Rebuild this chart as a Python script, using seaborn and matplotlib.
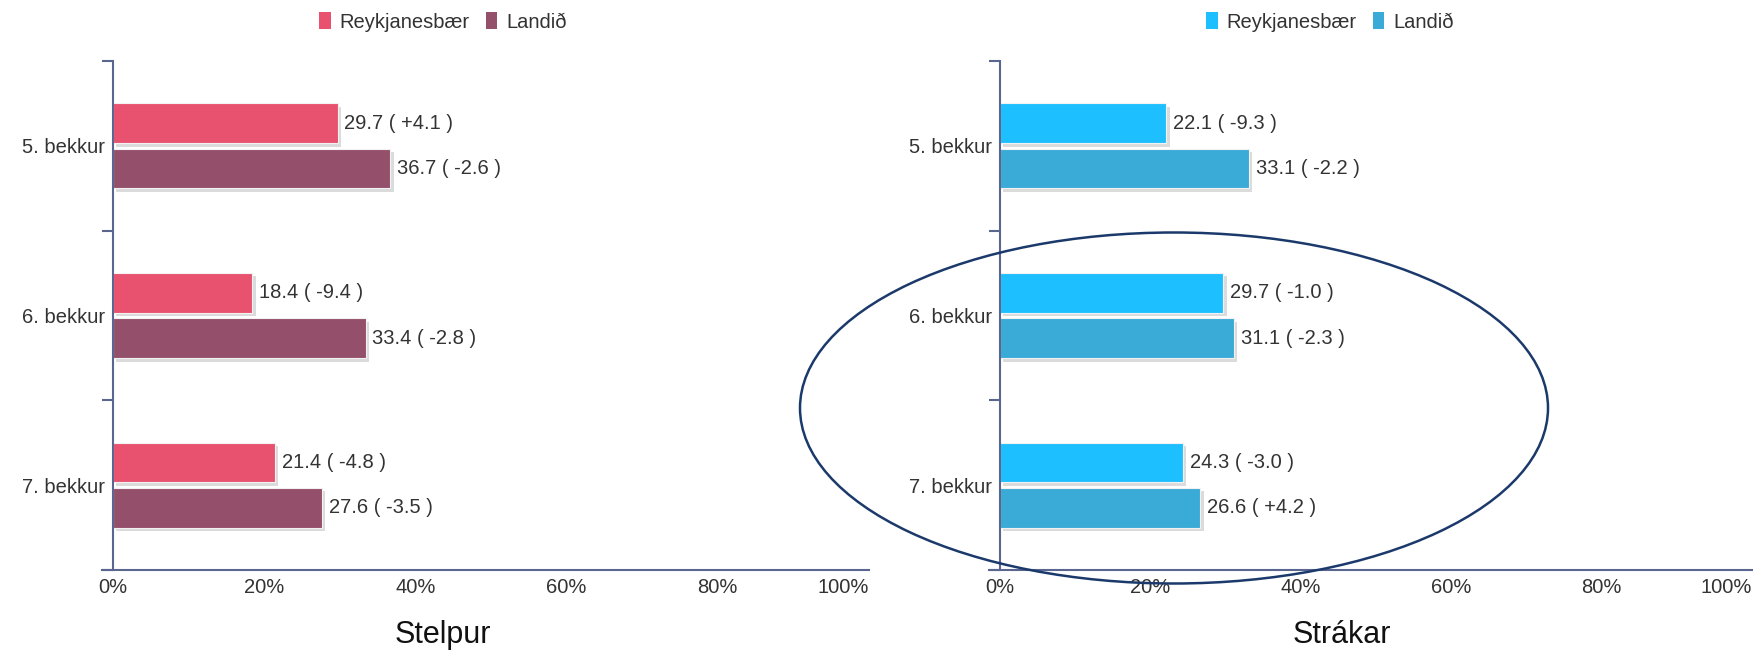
import numpy as np
import pandas as pd
import matplotlib
matplotlib.use("Agg")
import matplotlib.pyplot as plt
import matplotlib.patheffects as pe
from matplotlib.patches import Patch, Ellipse
import seaborn as sns

# === Data ===
grades = ["5. bekkur", "6. bekkur", "7. bekkur"]
groups = ["Reykjanesbær", "Landið"]

girls_rnb = [29.7, 18.4, 21.4]
girls_rnb_diff = ["+4.1", "-9.4", "-4.8"]
girls_land = [36.7, 33.4, 27.6]
girls_land_diff = ["-2.6", "-2.8", "-3.5"]

boys_rnb = [22.1, 29.7, 24.3]
boys_rnb_diff = ["-9.3", "-1.0", "-3.0"]
boys_land = [33.1, 31.1, 26.6]
boys_land_diff = ["-2.2", "-2.3", "+4.2"]

x_ticks = [0, 20, 40, 60, 80, 100]

girls_colors = ["#e8526f", "#944f6b"]
boys_colors = ["#1ebfff", "#3aabd7"]

sns.set_theme(style="white")
plt.rcParams["font.family"] = ["Liberation Sans", "DejaVu Sans"]

AXIS_COLOR = "#5a6690"
TEXT_COLOR = "#333333"
FS = 14.5


def long_df(rnb, land):
    return pd.DataFrame({
        "bekkur": grades * 2,
        "hopur": [groups[0]] * 3 + [groups[1]] * 3,
        "value": list(rnb) + list(land),
    })


def draw_panel(ax, rnb, rnb_diff, land, land_diff, colors, xmin, title, title_x, leg_x):
    df = long_df(rnb, land)
    sns.barplot(data=df, y="bekkur", x="value", hue="hopur", order=grades,
                hue_order=groups, palette=colors, orient="h", width=0.535,
                gap=0.12, ax=ax, legend=False, saturation=1,
                edgecolor="#f2f2f2", linewidth=0.8)
    shadow = [pe.SimplePatchShadow(offset=(2.5, -2.5), shadow_rgbFace="#999999", alpha=0.35),
              pe.Normal()]
    for patch in ax.patches:
        patch.set_path_effects(shadow)

    vals = [rnb, land]
    diffs = [rnb_diff, land_diff]
    for cont, v, d in zip(ax.containers, vals, diffs):
        labels = [f"{a:.1f} ( {b} )" for a, b in zip(v, d)]
        ax.bar_label(cont, labels=labels, padding=5, fontsize=FS, color=TEXT_COLOR)

    # spines first (moving a spine resets the tick styling)
    for side in ["top", "right"]:
        ax.spines[side].set_visible(False)
    ax.spines["left"].set_position(("data", 0))
    ax.spines["left"].set_color(AXIS_COLOR)
    ax.spines["left"].set_linewidth(1.5)
    ax.spines["bottom"].set_color(AXIS_COLOR)
    ax.spines["bottom"].set_linewidth(1.5)

    ax.set_xlim(xmin, 100)
    ax.set_ylim(2.5, -0.5)
    ax.set_xticks(x_ticks)
    ax.set_xticklabels([f"{t}%" for t in x_ticks], fontsize=FS, color=TEXT_COLOR)
    ax.get_xticklabels()[-1].set_horizontalalignment("right")
    ax.set_yticks(range(len(grades)))
    ax.set_yticklabels(grades, fontsize=FS, color=TEXT_COLOR)
    ax.set_yticks([-0.5, 0.5, 1.5, 2.5], minor=True)
    ax.tick_params(axis="y", which="major", left=False, length=0, pad=6)
    ax.tick_params(axis="y", which="minor", left=True, length=8, width=1.5,
                   color=AXIS_COLOR, direction="out")
    ax.tick_params(axis="x", length=0, pad=6)
    ax.set_xlabel("")
    ax.set_ylabel("")

    fig.text(title_x, 1 - 635 / 650, title, ha="center", va="center",
             fontsize=22, color="#111111")

    handles = [Patch(facecolor=c, edgecolor="none") for c in colors]
    fig.legend(handles, groups, loc="center", bbox_to_anchor=(leg_x, 1 - 22 / 650),
               ncol=2, frameon=False, fontsize=FS, handlelength=0.55,
               handleheight=0.9, handletextpad=0.45, columnspacing=0.8,
               labelcolor=TEXT_COLOR)


fig = plt.figure(figsize=(17.58, 6.5), dpi=100)
W, H = 1758, 650
top_px, bottom_px = 61, 570

# left panel: 0% at x=113, 100% at x=869
x0, x100 = 113, 869
xmin_l = -1.5
left_px = x0 + xmin_l * (x100 - x0) / 100
ax1 = fig.add_axes([left_px / W, 1 - bottom_px / H, (x100 - left_px) / W, (bottom_px - top_px) / H])
draw_panel(ax1, girls_rnb, girls_rnb_diff, girls_land, girls_land_diff, girls_colors,
           xmin_l, "Stelpur", 443 / W, 443 / W)

# right panel: 0% at x=1000, 100% at x=1752
x0, x100 = 1000, 1752
xmin_r = -1.5
left_px = x0 + xmin_r * (x100 - x0) / 100
ax2 = fig.add_axes([left_px / W, 1 - bottom_px / H, (x100 - left_px) / W, (bottom_px - top_px) / H])
draw_panel(ax2, boys_rnb, boys_rnb_diff, boys_land, boys_land_diff, boys_colors,
           xmin_r, "Strákar", 1342 / W, 1330 / W)

# hand-drawn highlight ellipse
ell = Ellipse((1174 / W, 1 - 408 / H), 748 / W, 351 / H, transform=fig.transFigure,
              fill=False, edgecolor="#1b3a6b", linewidth=1.8, zorder=10)
fig.add_artist(ell)

fig.savefig("out.png", dpi=100)
plt.close(fig)
